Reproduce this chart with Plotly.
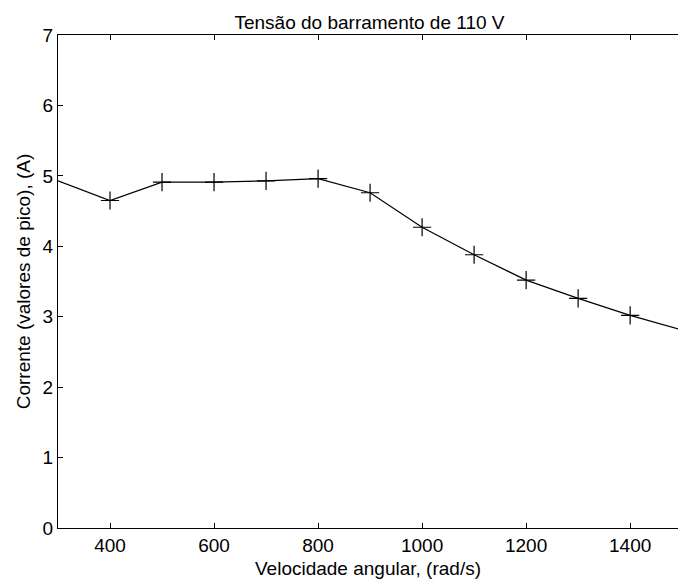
import plotly.graph_objects as go

# Peak current versus angular speed, 110 V bus
speed = [300, 400, 500, 600, 700, 800, 900, 1000, 1100, 1200, 1300, 1400, 1500]
current = [4.93, 4.65, 4.91, 4.91, 4.93, 4.96, 4.76, 4.27, 3.88, 3.52, 3.26, 3.02, 2.81]

# measured points shown with '+' markers
marker_speed = speed[1:-1]
marker_current = current[1:-1]

x_ticks = [400, 600, 800, 1000, 1200, 1400]
y_ticks = [0, 1, 2, 3, 4, 5, 6, 7]

FAMILY = "Arial, Liberation Sans, sans-serif"
SIZE = 19
font = dict(family=FAMILY, size=SIZE, color="black")

fig = go.Figure()
fig.add_trace(go.Scatter(
    x=speed, y=current, mode="lines",
    line=dict(color="black", width=1.2),
    showlegend=False, hoverinfo="skip",
))
fig.add_trace(go.Scatter(
    x=marker_speed, y=marker_current, mode="markers",
    marker=dict(symbol="cross-thin", size=13, line=dict(color="black", width=1.2)),
    showlegend=False,
))

fig.update_layout(
    width=678, height=583,
    margin=dict(l=58, r=0, t=35, b=55),
    paper_bgcolor="white", plot_bgcolor="white",
    font=font,
    title=dict(text="Tensão do barramento de 110 V", x=0.545, xanchor="center",
               y=0.962, yanchor="middle", font=dict(font)),
)
fig.update_xaxes(
    range=[300, 1492], tickvals=x_ticks, ticktext=[str(v) for v in x_ticks],
    tickfont=dict(font),
    ticks="inside", ticklen=5, tickcolor="black", tickwidth=1,
    showline=True, linecolor="black", linewidth=1, mirror="ticks",
    showgrid=False, zeroline=False,
    title=dict(text="Velocidade angular, (rad/s)", standoff=6, font=dict(font)),
)
fig.update_yaxes(
    range=[0, 7], tickvals=y_ticks, ticktext=[str(v) for v in y_ticks],
    tickfont=dict(font),
    ticks="inside", ticklen=5, tickcolor="black", tickwidth=1,
    showline=True, linecolor="black", linewidth=1, mirror=False,
    showgrid=False, zeroline=False,
    title=dict(text="Corrente (valores de pico), (A)", standoff=6, font=dict(font)),
)

fig.write_html("out.html")
